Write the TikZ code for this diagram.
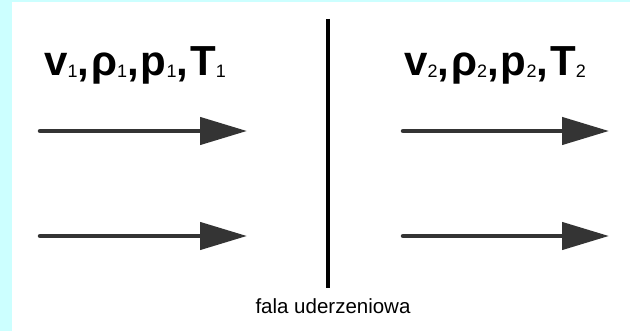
\documentclass[tikz,border=0pt]{standalone}
\usepackage{fontspec}
\setmainfont{Liberation Sans}
\usetikzlibrary{arrows.meta,positioning,calc}
\definecolor{FrameCyan}{RGB}{204,255,255}
\definecolor{ArrowGray}{RGB}{52,52,52}
\newcommand{\sub}[1]{\raisebox{-2.5pt}{\fontsize{18}{18}\selectfont\mdseries #1}}
\newcommand{\sep}{,\kern2pt}
\tikzset{
  state/.style  ={anchor=base west, inner sep=0pt, font=\fontsize{42}{42}\selectfont\bfseries},
  flow/.style   ={-{Triangle[length=47pt,width=27pt]}, draw=ArrowGray, fill=ArrowGray,
                  line width=4.5pt, line cap=round},
  front/.style  ={draw=black, line width=4pt},
  caption/.style={inner sep=0pt, font=\fontsize{20.5}{20.5}\selectfont},
}
\begin{document}
\begin{tikzpicture}[x=1pt,y=-1pt]
  \useasboundingbox (0,0) rectangle (630,331);
  \fill[FrameCyan] (0,0) rectangle (630,331);
  \fill[white] (12,2) rectangle (630,331);

  \node[state] (up) at (44,75.5) {v\sub{1}\sep ρ\sub{1}\sep p\sub{1}\sep T\sub{1}};
  \node[state] (down) at (404,75.5) {v\sub{2}\sep ρ\sub{2}\sep p\sub{2}\sep T\sub{2}};

  \foreach \n/\xa/\xb in {l/40/247,r/403/609}{
    \foreach \i/\y in {1/131,2/236}{
      \coordinate (\n\i s) at (\xa,\y);
      \coordinate (\n\i e) at (\xb,\y);
      \draw[flow] (\n\i s) -- (\n\i e);
    }
  }

  \coordinate (sh) at (328,19);
  \coordinate (sb) at (328,288);
  \draw[front] (sh) -- (sb);
  \node[caption] (cap) at (333,306) {fala uderzeniowa};
\end{tikzpicture}
\end{document}
